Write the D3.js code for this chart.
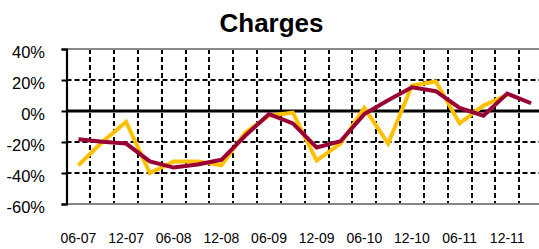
<!DOCTYPE html>
<html>
<head>
<meta charset="utf-8">
<script src="https://cdn.jsdelivr.net/npm/d3@7"></script>
<style>
  html, body { margin: 0; padding: 0; background: #fff; overflow: hidden; }
  svg { display: block; }
</style>
</head>
<body>
<div id="chart"></div>
<script>
// Quarterly categories, only June / December are labelled
const quarters = ['06-07','09-07','12-07','03-08','06-08','09-08','12-08','03-09','06-09','09-09',
                  '12-09','03-10','06-10','09-10','12-10','03-11','06-11','09-11','12-11','03-12'];
const tickLabels = ['06-07','12-07','06-08','12-08','06-09','12-09','06-10','12-10','06-11','12-11'];

// values in %
const seriesGold = [-35, -20, -7, -40, -32.5, -32.5, -35, -14, -3, -1,
                    -32, -21, 2, -21, 16.5, 19, -8, 3.5, 10.5, null];
const seriesWine = [-18.3, -19.8, -21, -32.5, -36.5, -34.5, -31.5, -16, -2, -8,
                    -23.5, -19.5, -2, 7, 15.3, 12.8, 2, -3, 11.2, 5];

const yTicks = [40, 20, 0, -20, -40, -60];

const W = 539, H = 249;
const plot = { left: 66.5, right: 543, top: 49, bottom: 204 };

const svg = d3.select('#chart').append('svg')
  .attr('width', W).attr('height', H);

const x = d3.scaleBand().domain(quarters).range([plot.left, plot.right]).padding(0);
const y = d3.scaleLinear().domain([-60, 40]).range([plot.bottom, plot.top]);

// title
svg.append('text')
  .attr('x', 271.5).attr('y', 31.5)
  .attr('text-anchor', 'middle')
  .attr('font-family', 'Liberation Sans, Arial, sans-serif')
  .attr('font-weight', 'bold')
  .attr('font-size', '26px')
  .attr('fill', '#000')
  .text('Charges');

const grid = svg.append('g');

// vertical dashed gridlines on category boundaries
grid.selectAll('line.v')
  .data(quarters.slice(1))
  .join('line')
  .attr('class', 'v')
  .attr('x1', d => Math.round(x(d)))
  .attr('x2', d => Math.round(x(d)))
  .attr('y1', plot.top).attr('y2', plot.bottom)
  .attr('stroke', '#000')
  .attr('stroke-width', 2)
  .attr('stroke-dasharray', '5,3');

// horizontal gridlines
grid.selectAll('line.h')
  .data(yTicks)
  .join('line')
  .attr('class', 'h')
  .attr('x1', plot.left).attr('x2', plot.right)
  .attr('y1', d => y(d)).attr('y2', d => y(d))
  .attr('stroke', d => (d === 40 || d === -60) ? '#888' : '#000')
  .attr('stroke-width', d => d === 0 ? 3.2 : 2)
  .attr('stroke-dasharray', d => (d === 0 || d === 40 || d === -60) ? null : '5,3');

// y axis
const yAxis = d3.axisLeft(y)
  .tickValues(yTicks)
  .tickSize(5)
  .tickPadding(0)
  .tickFormat(d => d + '%');

const ya = svg.append('g')
  .attr('transform', `translate(${plot.left},0)`)
  .call(yAxis);
ya.select('.domain').attr('stroke', '#000').attr('stroke-width', 2.2);
ya.selectAll('.tick line').attr('stroke', '#000').attr('stroke-width', 2);
ya.selectAll('.tick text')
  .attr('x', -21.5)
  .attr('dy', '0.53em')
  .attr('font-family', 'Liberation Sans, Arial, sans-serif')
  .attr('font-size', '16.5px')
  .attr('fill', '#000');

// x labels
const xAxis = d3.axisBottom(x)
  .tickValues(tickLabels)
  .tickSize(0)
  .tickPadding(0);
const xa = svg.append('g')
  .attr('transform', `translate(0,${plot.bottom})`)
  .call(xAxis);
xa.select('.domain').remove();
xa.selectAll('.tick text')
  .attr('y', 38.5)
  .attr('dy', 0)
  .attr('font-family', 'Liberation Sans, Arial, sans-serif')
  .attr('font-size', '14px')
  .attr('fill', '#000');

// series
const line = d3.line()
  .defined(d => d.v !== null)
  .x(d => x(d.q) + x.bandwidth() / 2)
  .y(d => y(d.v));

const mk = arr => quarters.map((q, i) => ({ q, v: arr[i] }));

svg.append('path')
  .datum(mk(seriesGold))
  .attr('fill', 'none')
  .attr('stroke', '#FFC000')
  .attr('stroke-width', 4)
  .attr('d', line);

svg.append('path')
  .datum(mk(seriesWine))
  .attr('fill', 'none')
  .attr('stroke', '#990033')
  .attr('stroke-width', 4)
  .attr('d', line);
</script>
</body>
</html>
